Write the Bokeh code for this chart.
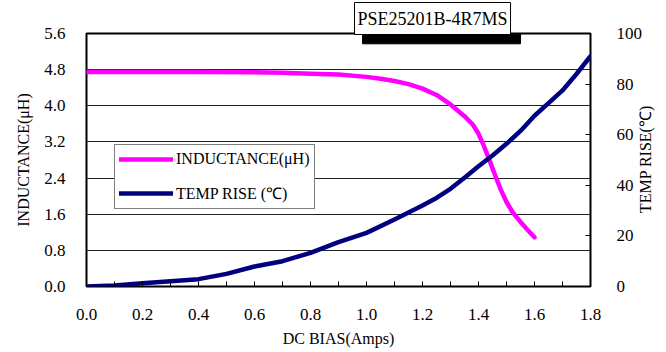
import math
from bokeh.plotting import figure
from bokeh.models import (Range1d, LinearAxis, FixedTicker, Label, Legend,
                          LegendItem, NumeralTickFormatter, Title)
from bokeh.embed import file_html
from bokeh.resources import INLINE

# Inductance vs DC bias
current = [0.0, 0.2, 0.4, 0.6, 0.7, 0.8, 0.9, 1.0, 1.05, 1.1, 1.15, 1.2,
           1.25, 1.3, 1.35, 1.38, 1.4, 1.42, 1.44, 1.46, 1.48, 1.5, 1.52,
           1.55, 1.58, 1.6]
inductance = [4.75, 4.75, 4.75, 4.74, 4.73, 4.71, 4.69, 4.64, 4.60, 4.55,
              4.48, 4.38, 4.24, 4.03, 3.77, 3.58, 3.38, 3.10, 2.78, 2.45,
              2.14, 1.87, 1.66, 1.43, 1.22, 1.09]

# Temperature rise vs DC bias
temp_current = [0.0, 0.1, 0.2, 0.3, 0.4, 0.5, 0.6, 0.7, 0.8, 0.9, 1.0,
                1.1, 1.2, 1.25, 1.3, 1.35, 1.4, 1.45, 1.5, 1.55, 1.6, 1.65,
                1.7, 1.75, 1.8]
temp_rise = [0.0, 0.4, 1.3, 2.1, 2.9, 5.0, 7.9, 10.0, 13.3, 17.5, 21.2,
             26.5, 32.0, 35.0, 38.6, 43.0, 47.5, 51.8, 56.4, 61.5, 67.5,
             72.5, 77.5, 84.0, 91.0]

x_ticks = [0.0, 0.2, 0.4, 0.6, 0.8, 1.0, 1.2, 1.4, 1.6, 1.8]
x_minor = [0.1, 0.3, 0.5, 0.7, 0.9, 1.1, 1.3, 1.5, 1.7]
l_ticks = [0.0, 0.8, 1.6, 2.4, 3.2, 4.0, 4.8, 5.6]
r_ticks = [0, 20, 40, 60, 80, 100]

FONT = "Liberation Serif"
TICK_SIZE = "17px"


def set_padding(model, x, y):
    """Horizontal/vertical box padding where supported, else uniform."""
    try:
        model.padding = dict(x=x, y=y)
    except Exception:
        model.padding = y


p = figure(width=666, height=352, output_backend="svg", toolbar_location=None,
           x_range=Range1d(0, 1.8), y_range=Range1d(0, 5.6),
           min_border_left=86, min_border_right=76, min_border_top=33,
           min_border_bottom=66, background_fill_color="white",
           border_fill_color="white")
p.extra_y_ranges = {"temp": Range1d(0, 100)}

p.outline_line_color = "black"
p.outline_line_width = 2
p.xgrid.visible = False
p.ygrid.ticker = FixedTicker(ticks=l_ticks)
p.ygrid.grid_line_color = "#222222"
p.ygrid.grid_line_width = 1

xa = p.xaxis[0]
xa.ticker = FixedTicker(ticks=x_ticks, minor_ticks=x_minor)
xa.formatter = NumeralTickFormatter(format="0.0")
xa.axis_line_color = None
xa.major_tick_in = 5
xa.major_tick_out = 0
xa.minor_tick_in = 5
xa.minor_tick_out = 0
xa.major_tick_line_color = "black"
xa.minor_tick_line_color = "black"
xa.major_label_standoff = 22
xa.major_label_text_font = FONT
xa.major_label_text_font_size = TICK_SIZE
xa.major_label_text_color = "black"

ya = p.yaxis[0]
ya.ticker = FixedTicker(ticks=l_ticks)
ya.formatter = NumeralTickFormatter(format="0.0")
ya.axis_line_color = None
ya.major_tick_in = 0
ya.major_tick_out = 0
ya.minor_tick_line_color = None
ya.major_label_standoff = 21
ya.major_label_text_font = FONT
ya.major_label_text_font_size = TICK_SIZE
ya.major_label_text_color = "black"

# temperature scale on the right
ra = LinearAxis(y_range_name="temp")
ra.ticker = FixedTicker(ticks=r_ticks)
ra.formatter = NumeralTickFormatter(format="0")
ra.axis_line_color = None
ra.major_tick_in = 5
ra.major_tick_out = 0
ra.major_tick_line_color = "black"
ra.minor_tick_line_color = None
ra.major_label_standoff = 26
ra.major_label_text_font = FONT
ra.major_label_text_font_size = TICK_SIZE
ra.major_label_text_color = "black"
p.add_layout(ra, "right")

# right-hand title, written bottom-to-top beside the temperature scale
title_at = 29
rt = LinearAxis(y_range_name="temp")
rt.ticker = FixedTicker(ticks=[title_at])
rt.major_label_overrides = {title_at: "TEMP RISE(℃)"}
rt.major_label_orientation = math.pi / 2
rt.axis_line_color = None
rt.major_tick_line_color = None
rt.minor_tick_line_color = None
rt.major_tick_in = 0
rt.major_tick_out = 0
rt.major_label_standoff = 0
rt.major_label_text_font = FONT
rt.major_label_text_font_size = "16px"
rt.major_label_text_color = "black"
p.add_layout(rt, "right")

r_ind = p.line(current, inductance, line_color="#FF00FF", line_width=4.5,
               line_cap="round", line_join="round")
r_tmp = p.line(temp_current, temp_rise, y_range_name="temp",
               line_color="#000080", line_width=4.5, line_cap="round",
               line_join="round")

legend = Legend(items=[LegendItem(label="INDUCTANCE(μH)", renderers=[r_ind]),
                       LegendItem(label="TEMP RISE (℃)", renderers=[r_tmp])],
                location=(28, 77), orientation="vertical",
                border_line_color="black", border_line_width=1,
                background_fill_color="white", background_fill_alpha=1,
                padding=4, spacing=13, glyph_width=54, glyph_height=20,
                label_standoff=3, label_text_font=FONT,
                label_text_font_size="16px", label_text_color="black",
                margin=0)
p.add_layout(legend, "center")

# axis titles
p.add_layout(Title(text="DC BIAS(Amps)", align="center", offset=-38,
                   text_font=FONT, text_font_size="16px",
                   text_font_style="normal", text_color="black",
                   standoff=10), "below")
p.add_layout(Title(text="INDUCTANCE(μH)", align="center", offset=10,
                   text_font=FONT, text_font_size="16px",
                   text_font_style="normal", text_color="black",
                   standoff=19), "left")

# part-number box with drop shadow
part = "PSE25201B-4R7MS"
shadow = Label(x=1.268, y=5.77, text=part, text_font=FONT,
               text_font_size="18px", text_align="center",
               text_baseline="middle", text_color="black",
               background_fill_color="black", border_line_color="black")
set_padding(shadow, 4, 8)
p.add_layout(shadow)

p.title.text = part
p.title.align = "left"
p.title.offset = 268
p.title.text_font = FONT
p.title.text_font_size = "18px"
p.title.text_font_style = "normal"
p.title.text_color = "black"
p.title.background_fill_color = "white"
p.title.border_line_color = "black"
p.title.border_line_width = 1
p.title.standoff = -2
set_padding(p.title, 3, 6)

open("out.html", "w").write(file_html(p, INLINE))
